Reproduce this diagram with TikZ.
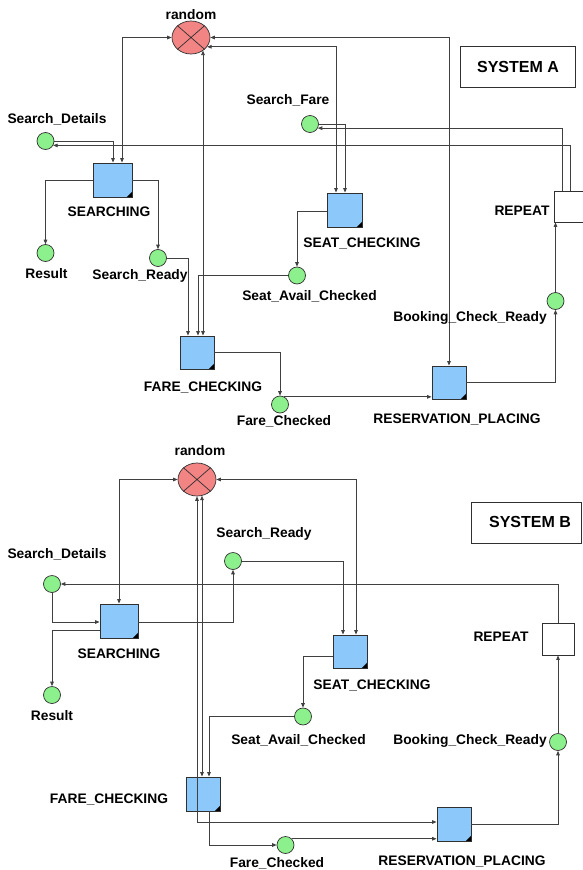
\documentclass[tikz,border=0pt]{standalone}
\usepackage{fontspec}
\setmainfont{Liberation Sans}
\usetikzlibrary{arrows.meta,shapes.geometric}

\definecolor{transfill}{HTML}{8CC8FA}
\definecolor{placefill}{HTML}{8CF08C}
\definecolor{randfill}{HTML}{F28484}
\definecolor{arcline}{HTML}{404040}
\definecolor{edgeline}{HTML}{303030}

\tikzset{
  lbl/.style={font=\fontsize{13.8}{15}\selectfont\bfseries, anchor=base, inner sep=0pt},
  titlelbl/.style={font=\fontsize{16}{18}\selectfont\bfseries, anchor=base, inner sep=0pt},
  place/.style={circle, draw=edgeline, fill=placefill, line width=0.7pt,
    minimum size=17pt, inner sep=0pt},
  trans/.style={rectangle, draw=edgeline, fill=transfill, line width=0.9pt,
    inner sep=0pt, minimum width=34pt, minimum height=34pt},
  emptybox/.style={rectangle, draw=edgeline, fill=white, line width=0.9pt, inner sep=0pt},
  randnode/.style={ellipse, draw=edgeline, fill=randfill, line width=0.7pt,
    minimum width=38pt, minimum height=33pt, inner sep=0pt},
  tip/.tip={Triangle[length=4.5pt,width=3.6pt]},
  arc/.style={draw=arcline, line width=0.8pt, -tip},
  arcboth/.style={draw=arcline, line width=0.8pt, tip-tip},
}

\begin{document}
\begin{tikzpicture}[x=1pt, y=-1pt]
\clip (0,0) rectangle (583,870);
\fill[white] (0,0) rectangle (583,870);

% ---------------- System A ----------------
\node[randnode] (rndA) at (191,37.5) {};
\node[place] (sdA) at (45.5,141) {};
\node[trans, minimum width=39pt] (searchA) at (112.5,180) {};
\node[place] (resultA) at (45.5,253) {};
\node[place] (sreadyA) at (158,258) {};
\node[place] (sfareA) at (310,124) {};
\node[trans, minimum width=35pt] (seatA) at (344.5,210) {};
\node[place] (sacA) at (297,275.5) {};
\node[trans, minimum height=33pt] (fareA) at (197,352.5) {};
\node[place] (fchkA) at (280,404.5) {};
\node[trans, minimum height=33pt] (resA) at (449,382.5) {};
\node[place] (bcrA) at (555.5,301) {};
\node[emptybox, minimum width=34pt, minimum height=31pt] (repA) at (571,206.5) {};
\node[emptybox, minimum width=115pt, minimum height=41pt] (sysboxA) at (517.5,66.5) {};

% ---------------- System B ----------------
\node[randnode] (rndB) at (197,479.5) {};
\node[place] (sdB) at (52,584) {};
\node[trans, minimum width=38pt] (searchB) at (119,621) {};
\node[place] (resultB) at (52,695) {};
\node[place] (sreadyB) at (233,561) {};
\node[trans, minimum height=33pt] (seatB) at (350,651.5) {};
\node[place] (sacB) at (303,716.5) {};
\node[trans] (fareB) at (203,794) {};
\node[place] (fchkB) at (285.5,845) {};
\node[trans] (resB) at (454,824) {};
\node[place] (bcrB) at (558,742) {};
\node[emptybox, minimum width=32pt, minimum height=32pt] (repB) at (558,639) {};
\node[emptybox, minimum width=110pt, minimum height=41pt] (sysboxB) at (526,522.5) {};

% crosses of the random nodes and the corner marks of the transitions
\foreach \r in {rndA,rndB}{
  \draw[edgeline, line width=0.7pt] (\r.north east) -- (\r.south west)
                                    (\r.north west) -- (\r.south east);
}
\foreach \b in {searchA,seatA,fareA,resA,searchB,seatB,fareB,resB}{
  \fill[black] ([xshift=-0.5pt,yshift=0.5pt]\b.south east) -- ++(-5,0) -- ++(5,-5) -- cycle;
}

% ---------------- arcs, System A ----------------
\draw[arc] (sdA.east) -| ([xshift=0.5pt]searchA.north);
\draw[arcboth] ([xshift=9.5pt]searchA.north) |- (rndA.west);
\draw[arc] (searchA.west) -| (resultA);
\draw[arc] (searchA.east) -| (sreadyA);
\draw[arc] (sreadyA.east) -| ([xshift=-9pt]fareA.north);
\draw[arc] (sacA.west) -| ([xshift=1pt]fareA.north);
\draw[arcboth] ([xshift=6pt]fareA.north) -- ([xshift=6pt]fareA.north |- rndA.-47);
\draw[arcboth] (rndA.east) -| (resA.north);
\draw[arcboth] (rndA.-30) -| ([xshift=-8.5pt]seatA.north);
\draw[arc] (sfareA.east) -| ([xshift=0.5pt]seatA.north);
\draw[arc] ([xshift=-9pt]repA.north) |- (sfareA.-28);
\draw[arc] ([xshift=-1pt]repA.north) |- (sdA.-30);
\draw[arc] ([yshift=-1pt]seatA.west) -| (sacA);
\draw[arc] (fareA.east) -| (fchkA);
\draw[arc] (fchkA.60) -- (resA.west |- fchkA.60);
\draw[arc] (resA.east) -| (bcrA);
\draw[arc] (bcrA.north) -- (bcrA.north |- repA.south);

% ---------------- arcs, System B ----------------
\draw[arc] (sdB) |- ([yshift=-1pt]searchB.west);
\draw[arc] ([yshift=-9pt]searchB.west) -| (resultB);
\draw[arc] ([yshift=-1pt]searchB.east) -| (sreadyB);
\draw[arcboth] (searchB.north) |- (rndB.west);
\draw[arcboth] ([xshift=-1pt]fareB.north) -- ([xshift=-1pt]fareB.north |- rndB.-72);
\draw[arcboth] (rndB.south) |- ([yshift=2pt]resB.west);
\draw[arc] (sacB.west) -| ([xshift=6pt]fareB.north);
\draw[arc] ([xshift=6pt]fareB.south) |- (fchkB);
\draw[arc] (fchkB.45) -- (resB.west |- fchkB.45);
\draw[arc] (sreadyB.east) -| ([xshift=-7pt]seatB.north);
\draw[arcboth] (rndB.east) -| ([xshift=6pt]seatB.north);
\draw[arc] ([yshift=-4.5pt]seatB.west) -| (sacB);
\draw[arc] (resB.east) -| (bcrB);
\draw[arc] (bcrB.north) -- (bcrB.north |- repB.south);
\draw[arc] (repB.north) |- (sdB);

% ---------------- labels, System A ----------------
\node[lbl] (lrndA) at (191,19.5) {random};
\node[lbl] (lsdA) at (57,123) {Search\_Details};
\node[lbl] (lsearchA) at (109,216) {SEARCHING};
\node[lbl] (lresultA) at (46.5,278) {Result};
\node[lbl] (lsreadyA) at (140,279.5) {Search\_Ready};
\node[lbl] (lsfareA) at (288,104.5) {Search\_Fare};
\node[lbl] (lseatA) at (362,247) {SEAT\_CHECKING};
\node[lbl] (lsacA) at (309.5,300) {Seat\_Avail\_Checked};
\node[lbl] (lfareA) at (203,391.5) {FARE\_CHECKING};
\node[lbl] (lfchkA) at (284,425) {Fare\_Checked};
\node[lbl] (lresA) at (457,423.5) {RESERVATION\_PLACING};
\node[lbl] (lbcrA) at (470,321) {Booking\_Check\_Ready};
\node[lbl] (lrepA) at (522,215.5) {REPEAT};
\node[titlelbl] (lsysA) at (518,72.5) {SYSTEM A};

% ---------------- labels, System B ----------------
\node[lbl] (lrndB) at (200,455) {random};
\node[lbl] (lsdB) at (57,558) {Search\_Details};
\node[lbl] (lsreadyB) at (264,537) {Search\_Ready};
\node[lbl] (lsearchB) at (119,658.5) {SEARCHING};
\node[lbl] (lresultB) at (52,720.5) {Result};
\node[lbl] (lseatB) at (372,689.5) {SEAT\_CHECKING};
\node[lbl] (lsacB) at (298.5,744) {Seat\_Avail\_Checked};
\node[lbl] (lbcrB) at (470,744) {Booking\_Check\_Ready};
\node[lbl] (lfareB) at (109,803) {FARE\_CHECKING};
\node[lbl] (lfchkB) at (277,867.5) {Fare\_Checked};
\node[lbl] (lresB) at (462,865.5) {RESERVATION\_PLACING};
\node[lbl] (lrepB) at (501,641) {REPEAT};
\node[titlelbl] (lsysB) at (530,527) {SYSTEM B};
\end{tikzpicture}
\end{document}
